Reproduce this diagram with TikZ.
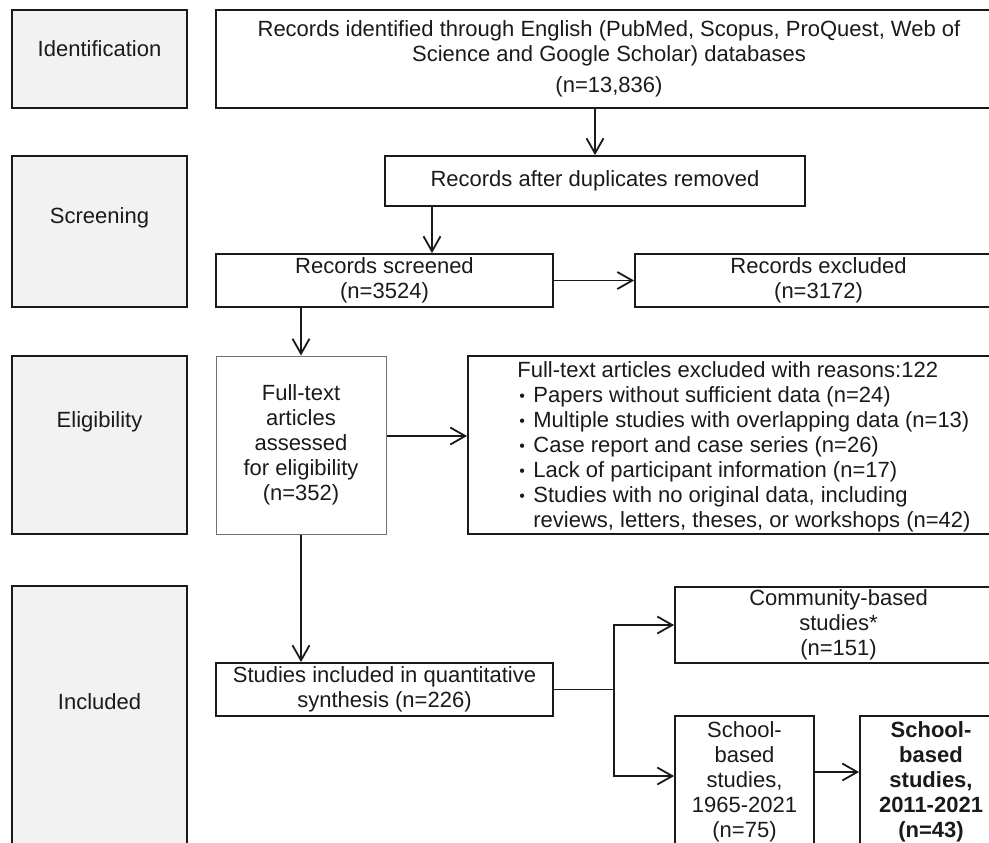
\documentclass[tikz,border=0pt]{standalone}
\usepackage{fontspec}
\setmainfont{Liberation Sans}
\usetikzlibrary{arrows.meta,calc}
\definecolor{ink}{HTML}{1A1A1A}
\definecolor{phasefill}{HTML}{F2F2F2}
\definecolor{thinline}{HTML}{707070}
\newcommand{\bul}{\makebox[8pt][l]{\hspace{1pt}\raisebox{0.5pt}{\fontsize{8}{8}\selectfont•}}}
\begin{document}
\begin{tikzpicture}[x=0.5pt,y=-0.5pt,
  font=\fontsize{11}{12.5}\selectfont,
  box/.style={draw=ink, line width=0.9pt, inner sep=0pt, align=center, text=ink},
  phase/.style={box, fill=phasefill, minimum width=87.5pt},
  lbl/.style={inner sep=0pt, text=ink, align=center},
  arr/.style={-{Straight Barb[length=7.5pt,width=8.5pt]}, draw=ink, line width=0.9pt},
  conn/.style={draw=ink, line width=0.9pt}]
\useasboundingbox (0,0) rectangle (989,842);
\clip (0,0) rectangle (989,842);
% phase boxes
\node[phase, minimum height=49pt] (pident) at (99.5,59) {};
\node[lbl] (lident) at (99.5,49) {Identification};
\node[phase, minimum height=75.5pt] (pscreen) at (99.5,231.5) {};
\node[lbl] (lscreen) at (99.5,218) {Screening};
\node[phase, minimum height=89pt] (pelig) at (99.5,445) {};
\node[lbl] (lelig) at (99.5,422) {Eligibility};
\node[phase, minimum height=147pt] (pincl) at (99.5,733) {};
\node[lbl] (lincl) at (99.5,702) {Included};
% flow boxes
\node[box, minimum width=393pt, minimum height=49pt] (recid) at (609,59)
  {Records identified through English (PubMed, Scopus, ProQuest, Web of\\
   Science and Google Scholar) databases\\[3pt] (n=13,836)};
\node[box, minimum width=210pt, minimum height=25pt] (dup) at (595,181)
  {Records after duplicates removed};
\node[box, minimum width=168.5pt, minimum height=26.5pt] (screened) at (384.5,280.5)
  {Records screened\\(n=3524)};
\node[box, minimum width=183.5pt, minimum height=26.5pt] (excluded) at (818.5,280.5)
  {Records excluded\\(n=3172)};
\node[box, draw=thinline, line width=0.5pt, minimum width=85pt, minimum height=89pt] (fulltext) at (301,445)
  {Full-text\\articles\\assessed\\for eligibility\\(n=352)};
\node[box, minimum width=267pt, minimum height=89pt] (reasons) at (735,445) {};
\node[lbl, align=left, anchor=west] (reasonstxt) at (517,446.5)
  {Full-text articles excluded with reasons:122\\
   \bul Papers without sufficient data (n=24)\\
   \bul Multiple studies with overlapping data (n=13)\\
   \bul Case report and case series (n=26)\\
   \bul Lack of participant information (n=17)\\
   \bul Studies with no original data, including\\
   \hphantom{\bul}reviews, letters, theses, or workshops (n=42)};
\node[box, minimum width=168.5pt, minimum height=26.5pt] (studies) at (384.5,689.5)
  {Studies included in quantitative\\synthesis (n=226)};
\node[box, minimum width=163.5pt, minimum height=38pt] (community) at (838.5,625)
  {Community-based\\studies*\\(n=151)};
\node[box, minimum width=69.5pt, minimum height=66pt] (school1) at (744.5,782)
  {School-\\based\\studies,\\1965-2021\\(n=75)};
\node[box, minimum width=71pt, minimum height=66pt, font=\fontsize{11}{12.5}\selectfont\bfseries] (school2) at (931,782)
  {School-\\based\\studies,\\2011-2021\\(n=43)};
% helper coordinates
\coordinate (x432) at (432,0);
\coordinate (y436) at (0,436);
\coordinate (bx) at (614,687);
\coordinate (y776) at (0,776);
\coordinate (y772) at (0,772);
% connectors
\draw[arr] (dup.north |- recid.south) -- (dup.north);
\draw[arr] (dup.south -| x432) -- (screened.north -| x432);
\draw[arr] (screened.east) -- (excluded.west);
\draw[arr] (fulltext.north |- screened.south) -- (fulltext.north);
\draw[arr] (fulltext.east |- y436) -- (reasons.west |- y436);
\draw[arr] (fulltext.south) -- (fulltext.south |- studies.north);
\draw[conn] (studies.east) -- (studies.east -| bx);
\draw[arr] (studies.east -| bx) |- (community.west);
\draw[arr] (studies.east -| bx) |- (school1.west |- y776);
\draw[arr] (school1.east |- y772) -- (school2.west |- y772);
\end{tikzpicture}
\end{document}
